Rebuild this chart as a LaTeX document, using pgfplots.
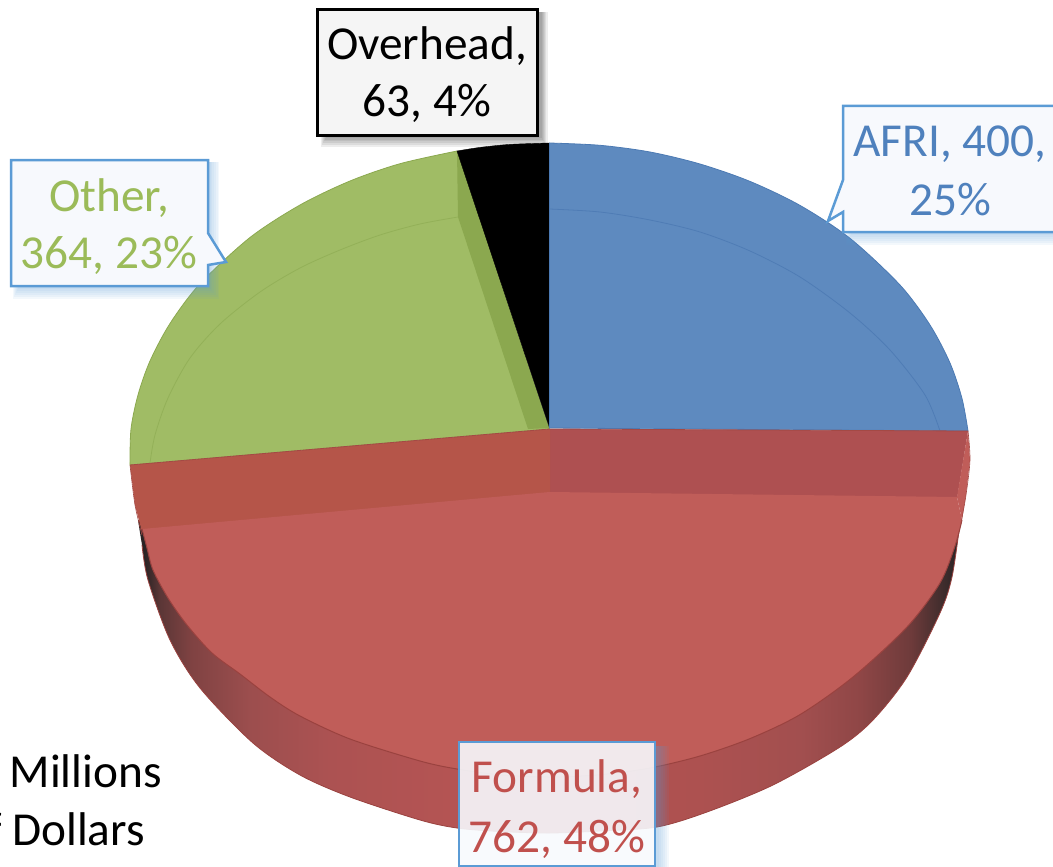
\documentclass[border=0pt]{standalone}
\usepackage{pgfplots}
\pgfplotsset{compat=1.18}
\usepackage{fontspec}
\setmainfont{Carlito}
\definecolor{cblue}{HTML}{5E8ABF}
\definecolor{cblueE}{HTML}{4C7AB3}
\definecolor{cgreen}{HTML}{A0BC65}
\definecolor{cgreenW}{HTML}{8BA84F}
\definecolor{cgreenL}{HTML}{93B058}
\definecolor{cred}{HTML}{C05D59}
\definecolor{credE}{HTML}{9A423F}
\definecolor{credWL}{HTML}{B55549}
\definecolor{credWR}{HTML}{AE5051}
\definecolor{tblue}{HTML}{4F81BD}
\definecolor{tgreen}{HTML}{9BBB59}
\definecolor{tred}{HTML}{C0504D}
\definecolor{boxb}{HTML}{5B9BD5}
\definecolor{boxf}{HTML}{F7F9FD}
\pgfdeclarehorizontalshading{wall}{100bp}{%
rgb(0bp)=(.165,.137,.141);rgb(25.4bp)=(.165,.137,.141);rgb(26.3bp)=(.353,.212,.212);
rgb(28.2bp)=(.498,.259,.259);rgb(31.8bp)=(.612,.306,.306);rgb(36.7bp)=(.675,.322,.322);
rgb(44bp)=(.706,.329,.325);rgb(50bp)=(.702,.325,.322);rgb(59.2bp)=(.678,.318,.314);
rgb(65.3bp)=(.635,.31,.31);rgb(68.9bp)=(.561,.275,.275);rgb(72bp)=(.431,.231,.231);
rgb(74.1bp)=(.235,.169,.169);rgb(74.9bp)=(.165,.137,.141);rgb(100bp)=(.165,.137,.141)}
\newcommand\shad[5]{\addplot[fill=#5,fill opacity=.07,draw=none] coordinates {(#1,#2)(#3,#2)(#3,#4)(#1,#4)} -- cycle;}
\tikzset{lab/.style={anchor=base,inner sep=0pt,font=\fontsize{47.3}{57}\selectfont}}
\begin{document}
\begin{tikzpicture}
\useasboundingbox (0,0) rectangle (1053pt,867pt);
\clip (0,0) rectangle (1053pt,867pt);
\begin{axis}[at={(0,0)},anchor=south west,scale only axis,width=1053pt,height=867pt,
  xmin=0,xmax=1053,ymin=0,ymax=867,y dir=reverse,axis lines=none,no markers,
  clip=true]
% side wall
\addplot[shade,shading=wall,draw=none,smooth] coordinates {
(138,520)(142,545)(148,580)(170,640)(200,688)(253,743)(300,775)(350,797)(420,820)(457,828)(500,831.5)(549.5,833)(600,831)(657,827)(707,812)(773,785)(840,747)(873,720)(907,677)(940,613)(952,577)(960,523)} -- cycle;
\addplot[draw=credE,line width=.8pt,smooth] coordinates {
(142,545)(148,580)(170,640)(200,688)(253,743)(300,775)(350,797)(420,820)(457,828)(500,831.5)(549.5,833)(600,831)(657,827)(707,812)(773,785)(840,747)(873,720)(907,677)(940,613)(952,577)(960,523)};
% green slice
\addplot[fill=cgreen,draw=cgreenW,line width=.8pt,smooth] coordinates {
(457,151)(400,163.7)(350,181)(300,205)(250,237.5)(200,283.7)(170,323.5)(150,361)(138,395)(131,429)(130,465)} -- (axis cs:549,429) -- cycle;
\addplot[fill=cgreenW,draw=none] coordinates {(457,151)(549,428)(528,429)(458,217)} -- cycle;
\addplot[draw=cgreenL,line width=.8pt,smooth] coordinates {
(458,217)(420,224)(380,235)(340,250)(300,268)(260,292)(220,324)(190,358)(168,398)(155,435)(150,463)};
% black slice
\addplot[fill=black,draw=black,line width=.4pt,smooth] coordinates {(457,151)(480,147.4)(510,144.4)(549.5,143)} -- (axis cs:549.5,428) -- cycle;
% blue slice
\addplot[fill=cblue,draw=cblueE,line width=.8pt,smooth] coordinates {
(549.5,143)(600,145.3)(650,152)(700,164)(750,181.4)(800,205.4)(850,238.3)(900,285)(930,325)(950,363)(962,398.5)(968,431)} -- (axis cs:549.5,428) -- cycle;
\addplot[draw=cblueE!85!cblue,line width=.8pt,smooth] coordinates {
(549.5,209)(600,212)(650,220)(700,232)(750,251)(800,277)(850,313)(890,350)(925,395)(940,431)};
% red slice back walls
\addplot[fill=credWR,draw=none] coordinates {(549.5,429)(968,431)(957,499)(549.5,495)} -- cycle;
\addplot[fill=credWL,draw=none] coordinates {(130,465)(550,429)(550,495)(142,532)(135,505)} -- cycle;
\addplot[fill=cred,draw=none] coordinates {(968,431)(970,460)(966,495)(962,520)(957,497)} -- cycle;
\addplot[draw=credE!75!cred,line width=.8pt] coordinates {(130,465)(549.5,429)(968,431)};
% red top face
\addplot[fill=cred,draw=none,smooth] coordinates {
(962,520)(955,546)(940,583)(907,627)(853,677)(800,714.6)(750,738.6)(700,756)(650,768)(600,774.7)(549.5,777)(500,774.8)(457,769)(420,761)(350,739)(300,716)(270,697)(240,674)(212,653)(187,625)(168,598)(153,570)(147,548)(142,529)} -- (axis cs:549.5,492) -- (axis cs:957,497) -- cycle;
\addplot[draw=credE,line width=1pt,smooth] coordinates {
(962,520)(955,546)(940,583)(907,627)(853,677)(800,714.6)(750,738.6)(700,756)(650,768)(600,774.7)(549.5,777)(500,774.8)(457,769)(420,761)(350,739)(300,716)(270,697)(240,674)(212,653)(187,625)(168,598)(153,570)(147,548)(142,529)};
\addplot[draw=credE!75!cred,line width=.6pt,smooth] coordinates {(130,465)(135,505)(142,535)};
\addplot[draw=credE!75!cred,line width=.6pt,smooth] coordinates {(968,431)(970,460)(966,495)(961,523)};
% Overhead box
\shad{321}{12}{548}{147}{black}\shad{322}{12}{546}{145}{black}\shad{323}{12}{545}{143}{black}\shad{324}{12}{544}{141}{black}\shad{325}{12}{543}{140}{black}\shad{326}{12}{542}{138}{black}
\addplot[fill=black!4,draw=black,line width=3pt] coordinates {(317,10)(537,10)(537,135)(317,135)} -- cycle;
% Other box
\shad{13}{162}{219}{299}{boxb}\shad{14}{162}{218}{297}{boxb}\shad{15}{162}{216}{295}{boxb}\shad{16}{162}{214}{293}{boxb}\shad{17}{162}{212}{291}{boxb}\shad{18}{162}{211}{289}{boxb}
\addplot[fill=boxf,draw=boxb,line width=2.5pt] coordinates {(11,160)(208,160)(208,233)(226,262)(208,265)(208,286)(11,286)} -- cycle;
% AFRI box
\shad{846}{108}{1070}{245}{boxb}\shad{847}{108}{1070}{243}{boxb}\shad{848}{108}{1070}{241}{boxb}\shad{849}{108}{1070}{239}{boxb}\shad{850}{108}{1070}{237}{boxb}\shad{851}{108}{1070}{235}{boxb}
\addplot[fill=boxf,draw=boxb,line width=2.5pt] coordinates {(843,106)(1070,106)(1070,232)(843,232)(843,212)(828,221)(843,180)} -- cycle;
% Formula box
\shad{655}{746}{669}{880}{boxb}\shad{655}{746}{667}{880}{boxb}\shad{655}{746}{665}{880}{boxb}\shad{655}{746}{663}{880}{boxb}\shad{655}{746}{661}{880}{boxb}\shad{655}{746}{659}{880}{boxb}
\addplot[fill=boxf,fill opacity=.9,draw=boxb,line width=2.5pt] coordinates {(459,742)(655,742)(655,866)(459,866)} -- cycle;
% texts
\node[lab,text=black] at (axis cs:427,60) {Overhead,};
\node[lab,text=black] at (axis cs:427,117) {63, 4\%};
\node[lab,text=tgreen] at (axis cs:109,211) {Other,};
\node[lab,text=tgreen] at (axis cs:109,268) {364, 23\%};
\node[lab,text=tblue] at (axis cs:950,156) {AFRI, 400,};
\node[lab,text=tblue] at (axis cs:950,215) {25\%};
\node[lab,text=tred] at (axis cs:557,792) {Formula,};
\node[lab,text=tred] at (axis cs:557,852) {762, 48\%};
\node[lab,anchor=base east,text=black] at (axis cs:162,787) {Millions};
\node[lab,anchor=base east,text=black] at (axis cs:145,845) {of Dollars};
\end{axis}
\end{tikzpicture}
\end{document}
